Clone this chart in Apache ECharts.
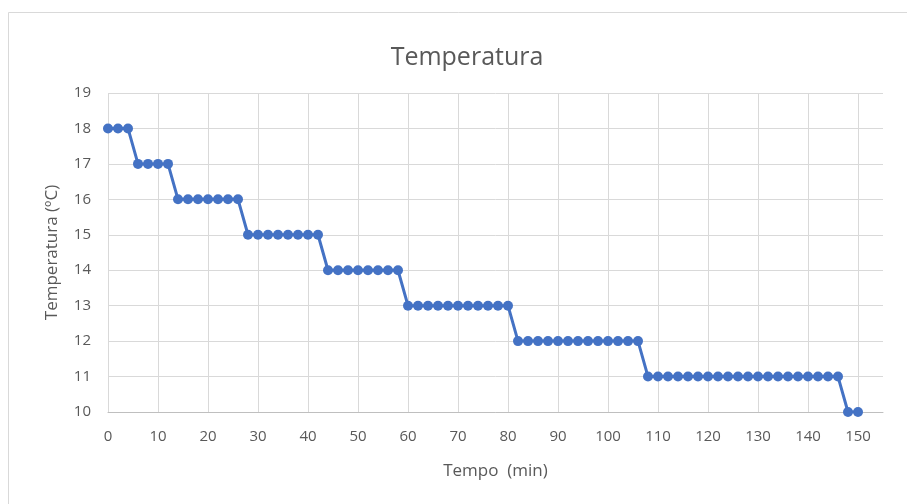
<!DOCTYPE html>
<html>
<head>
<meta charset="utf-8">
<script src="https://cdn.jsdelivr.net/npm/echarts@6/dist/echarts.min.js"></script>
<style>
  html, body { margin: 0; padding: 0; background: #fff; }
  #chart { width: 907px; height: 504px; }
</style>
</head>
<body>
<div id="chart"></div>
<script>
// Time of each reading, in minutes
const tempo = [
  0, 2, 4, 6, 8, 10, 12, 14, 16, 18, 20, 22, 24, 26, 28, 30, 32, 34, 36, 38,
  40, 42, 44, 46, 48, 50, 52, 54, 56, 58, 60, 62, 64, 66, 68, 70, 72, 74, 76, 78,
  80, 82, 84, 86, 88, 90, 92, 94, 96, 98, 100, 102, 104, 106, 108, 110, 112, 114, 116, 118,
  120, 122, 124, 126, 128, 130, 132, 134, 136, 138, 140, 142, 144, 146, 148, 150
];

// Temperature readings (ºC)
const temperatura = [
  18, 18, 18,
  17, 17, 17, 17,
  16, 16, 16, 16, 16, 16, 16,
  15, 15, 15, 15, 15, 15, 15, 15,
  14, 14, 14, 14, 14, 14, 14, 14,
  13, 13, 13, 13, 13, 13, 13, 13, 13, 13, 13,
  12, 12, 12, 12, 12, 12, 12, 12, 12, 12, 12, 12, 12,
  11, 11, 11, 11, 11, 11, 11, 11, 11, 11, 11, 11, 11, 11, 11, 11, 11, 11, 11, 11,
  10, 10
];

const titleText = 'Temperatura';
const xName = 'Tempo  (min)';
const yName = 'Temperatura (ºC)';

const points = tempo.map((t, i) => [t, temperatura[i]]);

const textColor = '#595959';
const gridColor = '#d9d9d9';
const font = '"Open Sans", "Noto Sans", sans-serif';

const chart = echarts.init(document.getElementById('chart'), null, { renderer: 'canvas' });
chart.setOption({
  animation: false,
  backgroundColor: '#ffffff',
  graphic: [{
    type: 'rect',
    silent: true,
    z: -10,
    shape: { x: 8.5, y: 12.5, width: 1200, height: 1200 },
    style: { fill: 'none', stroke: '#d9d9d9', lineWidth: 1 }
  }],
  title: {
    text: titleText,
    left: 462,
    textAlign: 'center',
    top: 40,
    textStyle: { fontFamily: font, fontSize: 25, fontWeight: 'normal', color: textColor }
  },
  grid: { left: 108, right: 24, top: 93, bottom: 92 },
  xAxis: {
    type: 'value',
    min: 0,
    max: 155,
    interval: 10,
    name: xName,
    nameLocation: 'middle',
    nameGap: 51,
    nameTextStyle: { fontFamily: font, fontSize: 17, color: textColor },
    axisLine: { show: true, lineStyle: { color: '#bfbfbf', width: 1 } },
    axisTick: { show: false },
    axisLabel: {
      showMaxLabel: false,
      margin: 17,
      fontFamily: font, fontSize: 15, color: textColor
    },
    splitLine: { show: true, showMaxLine: false, lineStyle: { color: gridColor, width: 1 } }
  },
  yAxis: {
    type: 'value',
    min: 10,
    max: 19,
    interval: 1,
    name: yName,
    nameLocation: 'middle',
    nameGap: 47,
    nameTextStyle: { fontFamily: font, fontSize: 17, color: textColor },
    axisLine: { show: false },
    axisTick: { show: false },
    axisLabel: { margin: 17, fontFamily: font, fontSize: 15, color: textColor },
    splitLine: { show: true, lineStyle: { color: gridColor, width: 1 } }
  },
  series: [{
    type: 'line',
    data: points,
    symbol: 'circle',
    symbolSize: 10,
    showSymbol: true,
    itemStyle: { color: '#4472c4' },
    lineStyle: { color: '#4472c4', width: 3 }
  }]
});
</script>
</body>
</html>
